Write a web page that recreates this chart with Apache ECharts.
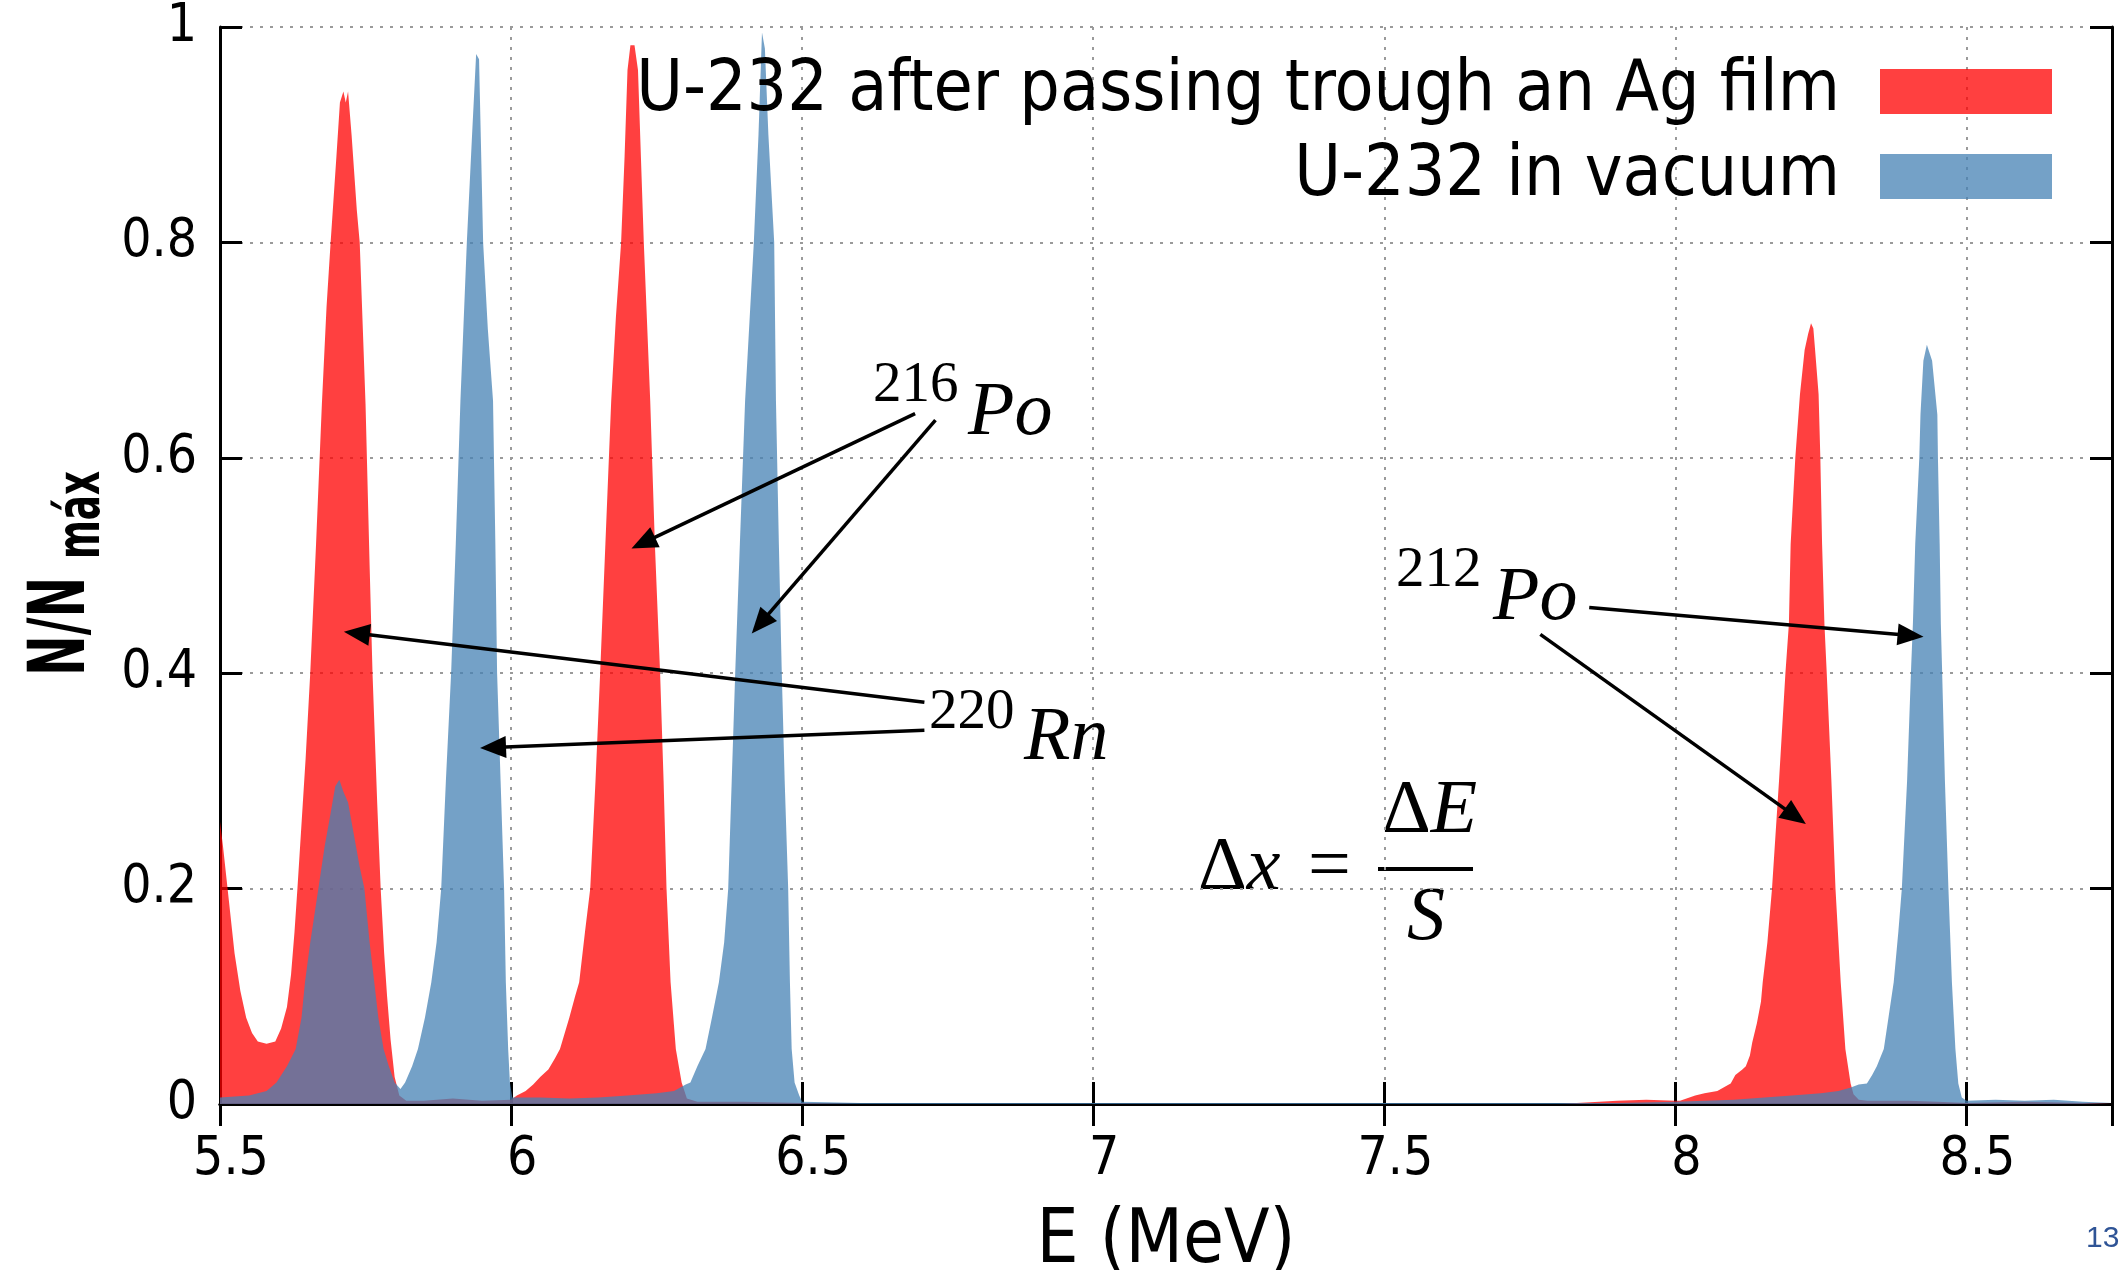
<!DOCTYPE html>
<html>
<head>
<meta charset="utf-8">
<script src="https://cdn.jsdelivr.net/npm/echarts@6/dist/echarts.min.js"></script>
<style>
  html, body { margin: 0; padding: 0; background: #fff; }
  #chart { width: 2121px; height: 1270px; }
</style>
</head>
<body>
<div id="chart"></div>
<script>
// spectrum after the Ag film (red)
var agEnergy = [5.500,5.505,5.515,5.525,5.535,5.545,5.555,5.565,5.580,5.595,5.605,5.615,5.622,5.628,5.633,5.640,5.647,5.655,5.665,5.675,5.683,5.690,5.700,5.706,5.712,5.716,5.720,5.726,5.735,5.740,5.750,5.757,5.762,5.770,5.776,5.782,5.787,5.793,5.800,5.808,5.820,5.850,5.900,5.950,6.000,
  6.010,6.025,6.038,6.050,6.064,6.075,6.084,6.100,6.110,6.117,6.127,6.136,6.145,6.153,6.162,6.172,6.180,6.189,6.195,6.200,6.205,6.212,6.218,6.228,6.239,6.247,6.256,6.262,6.267,6.274,6.283,6.293,6.302,6.320,6.400,6.500,6.600,7.800,7.900,7.950,8.000,
  8.008,8.034,8.050,8.072,8.085,8.095,8.103,8.115,8.121,8.128,8.132,8.140,8.147,8.150,8.158,8.166,8.178,8.189,8.195,8.198,8.206,8.214,8.222,8.228,8.233,8.237,8.240,8.246,8.249,8.252,8.256,8.260,8.268,8.275,8.284,8.292,8.301,8.306,8.315,8.330,8.400,8.450,8.500,8.600,8.700,8.750]
var agCounts = [0.262,0.240,0.190,0.140,0.105,0.080,0.066,0.058,0.056,0.058,0.070,0.090,0.120,0.160,0.200,0.260,0.320,0.400,0.520,0.650,0.740,0.800,0.880,0.930,0.940,0.930,0.940,0.900,0.830,0.800,0.650,0.500,0.400,0.280,0.200,0.140,0.100,0.060,0.025,0.008,0.003,0.003,0.005,0.003,0.004,
  0.008,0.012,0.018,0.025,0.032,0.042,0.051,0.080,0.100,0.113,0.160,0.200,0.300,0.400,0.520,0.653,0.730,0.800,0.880,0.960,0.983,0.983,0.960,0.800,0.653,0.520,0.400,0.300,0.200,0.113,0.051,0.020,0.005,0.002,0.002,0.001,0.000,0.000,0.003,0.004,0.003,
  0.003,0.008,0.010,0.012,0.016,0.019,0.027,0.032,0.035,0.045,0.057,0.075,0.095,0.113,0.150,0.200,0.300,0.400,0.446,0.520,0.600,0.659,0.700,0.715,0.725,0.720,0.700,0.659,0.600,0.520,0.446,0.400,0.300,0.200,0.113,0.051,0.019,0.009,0.004,0.003,0.003,0.002,0.001,0.002,0.001,0.001]

// spectrum in vacuum (blue)
var vacEnergy = [5.500,5.550,5.580,5.597,5.615,5.630,5.640,5.646,5.655,5.669,5.680,5.690,5.698,5.705,5.712,5.720,5.730,5.740,5.748,5.757,5.765,5.772,5.781,5.790,5.800,5.810,
  5.818,5.830,5.840,5.852,5.863,5.872,5.880,5.888,5.897,5.905,5.913,5.924,5.933,5.940,5.945,5.952,5.960,5.969,5.973,5.976,5.982,5.988,5.991,5.995,5.998,6.002,
  6.050,6.100,6.150,6.200,6.250,6.280,6.300,6.308,6.320,6.334,6.345,6.357,6.366,6.373,6.379,6.385,6.393,6.402,6.417,6.425,6.431,6.436,6.442,6.452,6.455,6.460,6.465,6.470,6.476,6.479,6.482,6.487,6.495,6.500,
  6.600,7.900,8.000,8.100,8.200,8.250,8.280,8.300,8.315,8.329,8.338,8.346,8.358,8.366,8.375,8.383,8.389,8.398,8.405,8.408,8.412,8.419,8.421,8.426,8.432,8.441,8.450,8.451,8.454,8.456,8.458,8.463,8.469,8.475,8.481,8.486,8.492,8.500,8.550,8.600,8.650,8.700,8.750]
var vacCounts = [0.006,0.008,0.012,0.020,0.035,0.051,0.080,0.113,0.150,0.200,0.240,0.270,0.295,0.301,0.290,0.280,0.250,0.220,0.200,0.150,0.113,0.080,0.051,0.035,0.020,0.014,
  0.020,0.035,0.051,0.080,0.113,0.150,0.200,0.300,0.400,0.520,0.653,0.800,0.900,0.975,0.970,0.800,0.720,0.653,0.520,0.400,0.300,0.200,0.113,0.051,0.020,0.006,
  0.006,0.005,0.006,0.008,0.010,0.012,0.018,0.020,0.035,0.051,0.080,0.113,0.150,0.200,0.300,0.400,0.520,0.653,0.800,0.900,0.995,0.980,0.900,0.800,0.653,0.520,0.400,0.300,0.200,0.113,0.051,0.020,0.008,0.002,
  0.001,0.001,0.002,0.004,0.008,0.010,0.012,0.015,0.018,0.019,0.027,0.035,0.051,0.080,0.113,0.160,0.200,0.300,0.406,0.446,0.520,0.600,0.640,0.690,0.705,0.690,0.640,0.600,0.520,0.446,0.406,0.300,0.200,0.113,0.051,0.019,0.006,0.003,0.004,0.003,0.004,0.002,0.001]

var seriesNames = ['U-232 after passing trough an Ag film', 'U-232 in vacuum']

// annotation arrows, [from, to] in (MeV, N/Nmax)
var arrows = [
  [[6.694, 0.641], [6.227, 0.521]],
  [[6.729, 0.635], [6.428, 0.446]],
  [[6.710, 0.373], [5.735, 0.437]],
  [[6.710, 0.347], [5.969, 0.331]],
  [[7.852, 0.461], [8.404, 0.435]],
  [[7.768, 0.436], [8.206, 0.267]]
]

var SANS = "'DejaVu Sans Condensed', 'DejaVu Sans', sans-serif"
var SERIF = "'Liberation Serif', 'DejaVu Serif', serif"
var RED = 'rgba(255,0,0,0.75)'
var BLUE = 'rgba(70,130,180,0.75)'

function zip(xs, ys) {
  var out = []
  for (var i = 0; i < xs.length; i++) out.push([xs[i], ys[i]])
  return out
}

var myChart = echarts.init(document.getElementById('chart'))

var gridDots = { color: '#9a9a9a', width: 2, type: [3, 7] }

var option = {
  animation: false,
  backgroundColor: '#fff',
  textStyle: { fontFamily: SANS },
  grid: { left: 220, right: 9, top: 27, bottom: 166, outerBoundsMode: 'none', containLabel: false },
  legend: {
    orient: 'vertical',
    align: 'right',
    right: 69,
    top: 56,
    padding: 0,
    itemWidth: 172,
    itemHeight: 45,
    itemGap: 14,
    textStyle: { fontSize: 71, fontFamily: SANS, color: '#000', padding: [0, 35, 0, 0] },
    data: [
      { name: seriesNames[0], icon: 'rect', itemStyle: { color: RED, borderWidth: 0 } },
      { name: seriesNames[1], icon: 'rect', itemStyle: { color: BLUE, borderWidth: 0 } }
    ]
  },
  xAxis: [{
    type: 'value',
    position: 'bottom',
    min: 5.5,
    max: 8.75,
    interval: 0.5,
    name: 'E (MeV)',
    nameLocation: 'middle',
    nameGap: 102,
    nameTextStyle: { fontSize: 74, color: '#000', fontFamily: SANS },
    axisLine: { lineStyle: { color: '#000', width: 3 } },
    axisTick: { inside: true, length: 22, lineStyle: { color: '#000', width: 3 } },
    axisLabel: { fontSize: 53, color: '#000', margin: 30, padding: [0, 0, 0, 22], showMaxLabel: false, fontFamily: SANS },
    splitLine: { show: true, lineStyle: gridDots }
  }, {
    type: 'value',
    position: 'top',
    min: 5.5,
    max: 8.75,
    interval: 0.5,
    axisLine: { show: true, lineStyle: { color: '#000', width: 3 } },
    axisTick: { show: true, inside: true, length: 22, lineStyle: { color: '#000', width: 3 } },
    axisLabel: { show: false },
    splitLine: { show: false }
  }],
  yAxis: [{
    type: 'value',
    position: 'left',
    min: 0,
    max: 1,
    interval: 0.2,
    axisLine: { show: true, lineStyle: { color: '#000', width: 3 } },
    axisTick: { show: true, inside: true, length: 22, lineStyle: { color: '#000', width: 3 } },
    axisLabel: { fontSize: 53, color: '#000', margin: 23, fontFamily: SANS },
    splitLine: { show: true, lineStyle: gridDots }
  }, {
    type: 'value',
    position: 'right',
    min: 0,
    max: 1,
    interval: 0.2,
    axisLine: { show: true, lineStyle: { color: '#000', width: 3 } },
    axisTick: { show: true, inside: true, length: 22, lineStyle: { color: '#000', width: 3 } },
    axisLabel: { show: false },
    splitLine: { show: false }
  }],
  series: [{
    name: seriesNames[0],
    type: 'line',
    data: zip(agEnergy, agCounts),
    showSymbol: false,
    symbol: 'none',
    itemStyle: { color: RED },
    lineStyle: { width: 0 },
    areaStyle: { color: RED, opacity: 1 }
  }, {
    name: seriesNames[1],
    type: 'line',
    data: zip(vacEnergy, vacCounts),
    showSymbol: false,
    symbol: 'none',
    itemStyle: { color: BLUE },
    lineStyle: { width: 0 },
    areaStyle: { color: BLUE, opacity: 1 },
    markLine: {
      silent: true,
      animation: false,
      symbol: ['none', 'triangle'],
      symbolSize: [22, 26],
      label: { show: false },
      lineStyle: { color: '#000', width: 3.5, type: 'solid' },
      data: arrows.map(function (a) {
        return [{ coord: a[0] }, { coord: a[1] }]
      })
    }
  }],
  graphic: [
    // y axis title N/Nmáx, rotated
    {
      type: 'group', x: 64, y: 676, rotation: Math.PI / 2, scaleX: 0.9, scaleY: 1.3,
      children: [
        { type: 'text', x: 0, y: 0, style: { text: 'N/N', font: 'bold 60px ' + SANS, fill: '#000', align: 'left', verticalAlign: 'middle' } },
        { type: 'text', x: 130, y: 15, style: { text: 'máx', font: 'bold 46px ' + SANS, fill: '#000', align: 'left', verticalAlign: 'middle' } }
      ]
    },
    // 216Po
    { type: 'text', x: 873, y: 386, style: { text: '216', font: '57px ' + SERIF, fill: '#000', verticalAlign: 'middle' } },
    { type: 'text', x: 968, y: 414, style: { text: 'Po', font: 'italic 76px ' + SERIF, fill: '#000', verticalAlign: 'middle' } },
    // 220Rn
    { type: 'text', x: 929, y: 713, style: { text: '220', font: '57px ' + SERIF, fill: '#000', verticalAlign: 'middle' } },
    { type: 'text', x: 1024, y: 739, style: { text: 'Rn', font: 'italic 76px ' + SERIF, fill: '#000', verticalAlign: 'middle' } },
    // 212Po
    { type: 'text', x: 1396, y: 571, style: { text: '212', font: '57px ' + SERIF, fill: '#000', verticalAlign: 'middle' } },
    { type: 'text', x: 1493, y: 599, style: { text: 'Po', font: 'italic 76px ' + SERIF, fill: '#000', verticalAlign: 'middle' } },
    // Δx = ΔE / S
    {
      type: 'text', x: 1198, y: 869,
      style: {
        text: '{r|Δ}{i|x}', verticalAlign: 'middle',
        rich: { r: { font: '76px ' + SERIF, fill: '#000' }, i: { font: 'italic 76px ' + SERIF, fill: '#000' } }
      }
    },
    { type: 'text', x: 1308, y: 869, style: { text: '=', font: '76px ' + SERIF, fill: '#000', verticalAlign: 'middle' } },
    { type: 'rect', shape: { x: 1378, y: 867, width: 95, height: 4 }, style: { fill: '#000' } },
    {
      type: 'text', x: 1382, y: 812,
      style: {
        text: '{r|Δ}{i|E}', verticalAlign: 'middle',
        rich: { r: { font: '76px ' + SERIF, fill: '#000' }, i: { font: 'italic 76px ' + SERIF, fill: '#000' } }
      }
    },
    { type: 'text', x: 1407, y: 919, style: { text: 'S', font: 'italic 76px ' + SERIF, fill: '#000', verticalAlign: 'middle' } },
    // slide page number
    { type: 'text', x: 2086, y: 1239, style: { text: '13', font: '30px ' + "'Liberation Sans', sans-serif", fill: '#2f5496', verticalAlign: 'middle' } }
  ]
}

myChart.setOption(option)
</script>
</body>
</html>
